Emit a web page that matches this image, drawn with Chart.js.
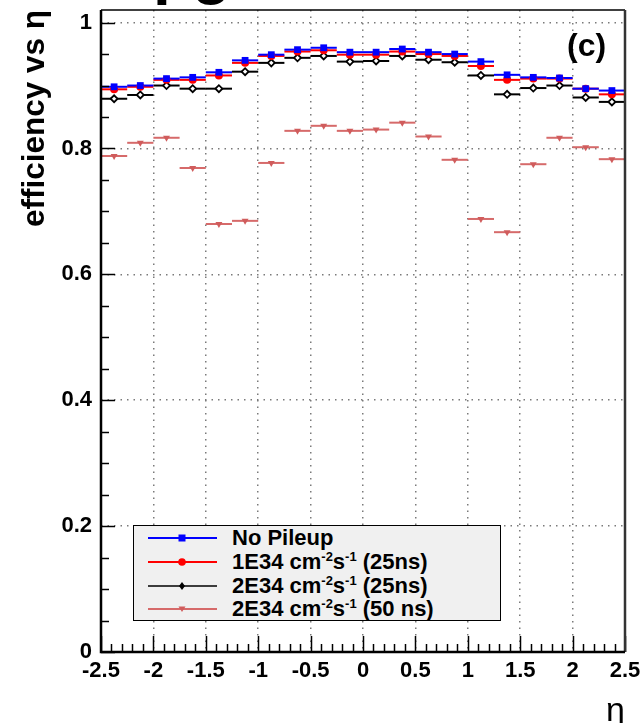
<!DOCTYPE html>
<html>
<head>
<meta charset="utf-8">
<script src="https://cdn.jsdelivr.net/npm/chart.js@4"></script>
<style>
  html, body { margin: 0; padding: 0; background: #fff; overflow: hidden; }
  #wrap { position: relative; width: 640px; height: 723px; font-family: "Liberation Sans", Arial, sans-serif; }
  #c { position: absolute; left: 0; top: 0; }
  #legend { position: absolute; left: 133px; top: 525px; width: 368px; height: 96px;
    background: #f0f0f0; border: 1.5px solid #000; box-sizing: border-box; }
  .row { position: absolute; left: 0; height: 24px; width: 100%; }
  .row svg { position: absolute; left: 12px; top: 0; }
  .row span { position: absolute; left: 98px; top: 0; font-weight: bold; font-size: 22px; line-height: 24px; white-space: nowrap; color: #000; }
  .row sup { font-size: 13px; vertical-align: 8px; line-height: 0; }
  #tag { position: absolute; left: 567px; top: 29px; font-weight: bold; font-size: 32px; line-height: 32px; }
  #top { position: absolute; left: 153px; top: -62px; font-weight: bold; font-size: 64px; line-height: 64px; }
</style>
</head>
<body>
<div id="wrap">
  <canvas id="c" width="640" height="723"></canvas>
  <div id="top">pg</div>
  <div id="tag">(c)</div>
  <div id="legend">
    <div class="row" style="top:0px">
      <svg width="80" height="24"><line x1="2" y1="12" x2="71" y2="12" stroke="#0000ff" stroke-width="2"/><rect x="32.5" y="8.5" width="7" height="7" fill="#0000ff"/></svg>
      <span>No Pileup</span>
    </div>
    <div class="row" style="top:24px">
      <svg width="80" height="24"><line x1="2" y1="12" x2="71" y2="12" stroke="#ff0000" stroke-width="2"/><circle cx="36" cy="12" r="3.8" fill="#ff0000"/></svg>
      <span>1E34 cm<sup>-2</sup>s<sup>-1</sup> (25ns)</span>
    </div>
    <div class="row" style="top:48px">
      <svg width="80" height="24"><line x1="2" y1="12" x2="71" y2="12" stroke="#000000" stroke-width="1.5"/><polygon points="36,8 39,12 36,16 33,12" fill="#000000"/></svg>
      <span>2E34 cm<sup>-2</sup>s<sup>-1</sup> (25ns)</span>
    </div>
    <div class="row" style="top:71px">
      <svg width="80" height="24"><line x1="2" y1="12" x2="71" y2="12" stroke="#d66a6a" stroke-width="2"/><polygon points="32.5,9.5 39.5,9.5 36,15" fill="#d05c5c"/></svg>
      <span>2E34 cm<sup>-2</sup>s<sup>-1</sup> (50 ns)</span>
    </div>
  </div>
</div>
<script>
// ---- data ----
const etaCenters = [-2.375, -2.125, -1.875, -1.625, -1.375, -1.125, -0.875, -0.625, -0.375, -0.125,
                     0.125,  0.375,  0.625,  0.875,  1.125,  1.375,  1.625,  1.875,  2.125,  2.375];
const binHalfWidth = 0.125;
const noPileup  = [0.898, 0.900, 0.911, 0.913, 0.921, 0.940, 0.949, 0.957, 0.960, 0.953,
                   0.953, 0.958, 0.953, 0.950, 0.938, 0.917, 0.913, 0.912, 0.895, 0.892];
const lumi1e34_25ns = [0.894, 0.898, 0.909, 0.909, 0.916, 0.936, 0.947, 0.954, 0.956, 0.949,
                   0.949, 0.954, 0.950, 0.947, 0.931, 0.909, 0.911, 0.911, 0.895, 0.886];
const lumi2e34_25ns = [0.879, 0.885, 0.900, 0.895, 0.895, 0.922, 0.936, 0.944, 0.947, 0.938,
                   0.939, 0.947, 0.941, 0.937, 0.916, 0.886, 0.896, 0.900, 0.881, 0.874];
const lumi2e34_50ns = [0.788, 0.809, 0.817, 0.769, 0.680, 0.685, 0.777, 0.828, 0.836, 0.828,
                   0.830, 0.841, 0.819, 0.782, 0.688, 0.667, 0.775, 0.817, 0.802, 0.783];
const xTickValues = [-2.5, -2, -1.5, -1, -0.5, 0, 0.5, 1, 1.5, 2, 2.5];
const xTickLabels = ['-2.5', '-2', '-1.5', '-1', '-0.5', '0', '0.5', '1', '1.5', '2', '2.5'];
const yTickValues = [0, 0.2, 0.4, 0.6, 0.8, 1];
const yTickLabels = ['0', '0.2', '0.4', '0.6', '0.8', '1'];
const seriesNames = ['No Pileup', '1E34 cm-2s-1 (25ns)', '2E34 cm-2s-1 (25ns)', '2E34 cm-2s-1 (50 ns)'];

const pts = arr => arr.map((v, i) => ({ x: etaCenters[i], y: v }));
const FONT = '"Liberation Sans", Arial, sans-serif';

const errBars = {
  id: 'errBars',
  beforeDatasetsDraw(chart) {
    const { ctx, scales: { x, y } } = chart;
    ctx.save();
    ctx.lineWidth = 2;
    for (let i = chart.data.datasets.length - 1; i >= 0; i--) {
      const ds = chart.data.datasets[i];
      ctx.strokeStyle = ds.barColor;
      ds.data.forEach(p => {
        const py = y.getPixelForValue(p.y);
        ctx.beginPath();
        ctx.moveTo(x.getPixelForValue(p.x - binHalfWidth), py);
        ctx.lineTo(x.getPixelForValue(p.x + binHalfWidth), py);
        ctx.stroke();
      });
    }
    ctx.restore();
  }
};

const frameTicks = {
  id: 'frameTicks',
  afterDraw(chart) {
    const { ctx, chartArea: a, scales: { x, y } } = chart;
    ctx.save();
    ctx.strokeStyle = '#000';
    ctx.lineWidth = 1.5;
    for (let k = 0; k <= 20; k++) {
      const py = Math.round(y.getPixelForValue(k * 0.05)) + 0.5;
      const len = (k % 4 === 0) ? 14 : 8;
      ctx.beginPath(); ctx.moveTo(a.left, py); ctx.lineTo(a.left + len, py); ctx.stroke();
    }
    for (let k = 0; k <= 50; k++) {
      const px = Math.round(x.getPixelForValue(-2.5 + k * 0.1)) + 0.5;
      const len = (k % 5 === 0) ? 16 : 8;
      ctx.beginPath(); ctx.moveTo(px, a.bottom); ctx.lineTo(px, a.bottom - len); ctx.stroke();
    }
    ctx.lineWidth = 1.5;
    ctx.beginPath(); ctx.moveTo(a.left, a.top); ctx.lineTo(a.right, a.top); ctx.stroke();
    ctx.lineWidth = 2.5;
    ctx.strokeStyle = '#333';
    ctx.beginPath(); ctx.moveTo(a.right, a.top); ctx.lineTo(a.right, a.bottom); ctx.stroke();
    ctx.strokeStyle = '#000';
    ctx.beginPath(); ctx.moveTo(a.left, a.top); ctx.lineTo(a.left, a.bottom); ctx.lineTo(a.right, a.bottom); ctx.stroke();
    ctx.restore();
  }
};

const gridColor = edgeVals => ctx => {
  const v = ctx.tick ? ctx.tick.value : null;
  return edgeVals.includes(v) ? 'rgba(0,0,0,0)' : '#7a7a7a';
};

new Chart(document.getElementById('c'), {
  type: 'scatter',
  data: {
    datasets: [
      { label: seriesNames[0], data: pts(noPileup), pointStyle: 'rect', pointRadius: 4.8,
        backgroundColor: '#0000ff', borderColor: '#0000ff', borderWidth: 0, barColor: '#0000ff' },
      { label: seriesNames[1], data: pts(lumi1e34_25ns), pointStyle: 'circle', pointRadius: 4,
        backgroundColor: '#ff0000', borderColor: '#ff0000', borderWidth: 0, barColor: '#ff0000' },
      { label: seriesNames[2], data: pts(lumi2e34_25ns), pointStyle: 'rectRot', pointRadius: 3.5,
        backgroundColor: '#ffffff', borderColor: '#000000', borderWidth: 1.8, barColor: '#000000' },
      { label: seriesNames[3], data: pts(lumi2e34_50ns), pointStyle: 'triangle', rotation: 180, pointRadius: 4,
        backgroundColor: '#d05c5c', borderColor: '#d05c5c', borderWidth: 0, barColor: '#d66a6a' }
    ]
  },
  options: {
    responsive: false,
    animation: false,
    events: [],
    layout: { padding: { top: 10, right: 15, left: 0, bottom: 0 } },
    plugins: { legend: { display: false }, tooltip: { enabled: false } },
    scales: {
      x: {
        type: 'linear', min: -2.5, max: 2.5,
        afterBuildTicks: s => { s.ticks = xTickValues.map(v => ({ value: v })); },
        afterFit: s => { s.height = 71; s.paddingLeft = 0; s.paddingRight = 0; },
        ticks: { autoSkip: false, maxRotation: 0, padding: 6, color: '#000',
                 font: { family: FONT, size: 22, weight: 'bold' },
                 callback: (v, i) => xTickLabels[i] },
        grid: { drawTicks: false, color: gridColor([-2.5, 2.5]), lineWidth: 1.5 },
        border: { display: false, dash: [1.5, 5] },
        title: { display: true, text: 'η', align: 'end', color: '#000',
                 font: { family: FONT, size: 34, lineHeight: 0.6 }, padding: { top: 0, bottom: 1 } }
      },
      y: {
        type: 'linear', min: 0, max: 1.02,
        afterBuildTicks: s => { s.ticks = yTickValues.map(v => ({ value: v })); },
        afterFit: s => { s.width = 101; s.paddingTop = 0; s.paddingBottom = 0; },
        ticks: { padding: 9, color: '#000',
                 font: { family: FONT, size: 22, weight: 'bold' },
                 callback: (v, i) => yTickLabels[i] },
        grid: { drawTicks: false, color: gridColor([0]), lineWidth: 1.5 },
        border: { display: false, dash: [1.5, 5] },
        title: { display: true, text: 'efficiency vs η', align: 'end', color: '#000',
                 font: { family: FONT, size: 31.5, weight: 'bold' }, padding: { top: 16, bottom: 0 } }
      }
    }
  },
  plugins: [errBars, frameTicks]
});
</script>
</body>
</html>
